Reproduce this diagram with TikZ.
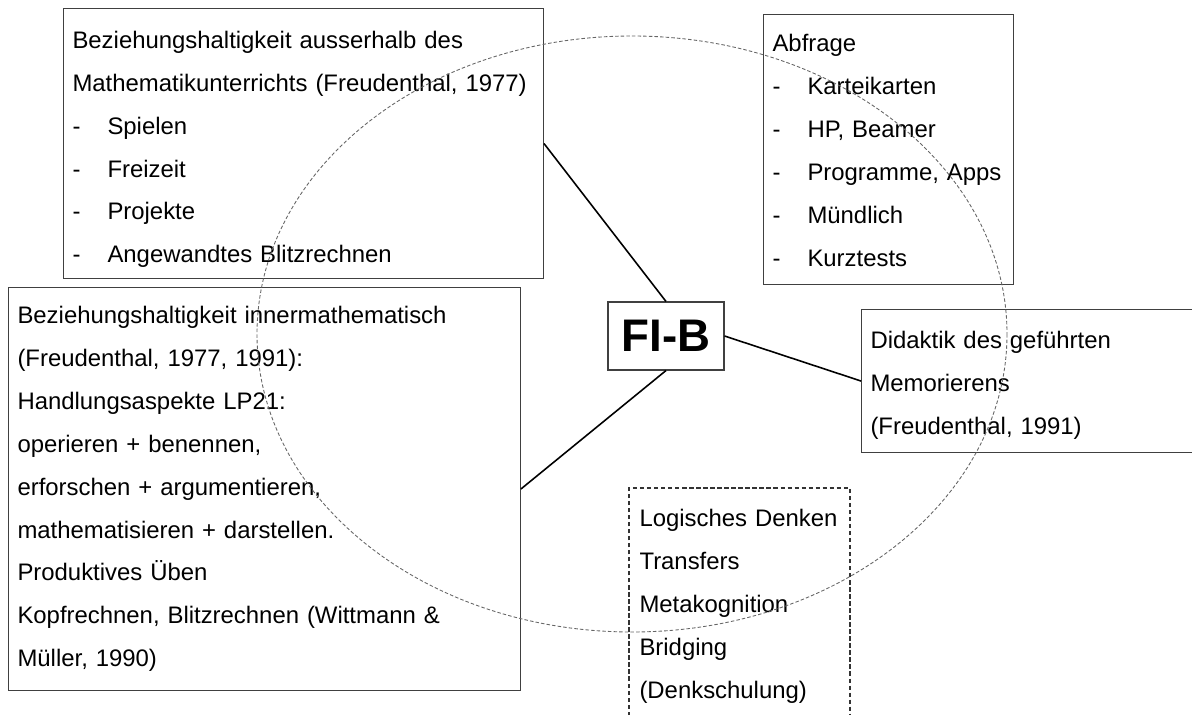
\documentclass[tikz,border=0pt]{standalone}
\usepackage{fontspec}
\setmainfont{Liberation Sans}
\usetikzlibrary{positioning}

\newcommand{\strich}[1]{\makebox[0.7cm][l]{-}#1}

\begin{document}
\begin{tikzpicture}[x=0.02cm,y=-0.02cm,
    kasten/.style={draw=black!75,line width=0.6pt,anchor=north west,align=left,
        inner xsep=0.18cm,inner ysep=0pt,font=\fontsize{13.6}{24.4}\selectfont},
    absenken/.style={execute at begin node={\rule{0pt}{#1}}},
    verbindung/.style={line width=0.9pt},
    kreis/.style={draw=black!60,line width=0.5pt,dash pattern=on 2pt off 1.2pt}]
\useasboundingbox (0,0) rectangle (1192,715);

% Kasten oben links
\node[kasten,absenken=16.7pt,minimum width=9.6cm,minimum height=5.4cm,text width=9.24cm] (ausser) at (63,8)
    {Beziehungshaltigkeit ausserhalb des\\
     Mathematikunterrichts (Freudenthal, 1977)\\
     \strich{Spielen}\\
     \strich{Freizeit}\\
     \strich{Projekte}\\
     \strich{Angewandtes Blitzrechnen}};

% Kasten oben rechts
\node[kasten,absenken=11pt,minimum width=5.0cm,minimum height=5.4cm,text width=4.64cm] (abfrage) at (763,14)
    {Abfrage\\
     \strich{Karteikarten}\\
     \strich{HP, Beamer}\\
     \strich{Programme, Apps}\\
     \strich{Mündlich}\\
     \strich{Kurztests}};

% Kasten links
\node[kasten,minimum width=10.24cm,minimum height=8.06cm,text width=9.88cm] (inner) at (8,287)
    {Beziehungshaltigkeit innermathematisch\\
     (Freudenthal, 1977, 1991):\\
     Handlungsaspekte LP21:\\
     operieren + benennen,\\
     erforschen + argumentieren,\\
     mathematisieren + darstellen.\\
     Produktives Üben\\
     Kopfrechnen, Blitzrechnen (Wittmann \&\\
     Müller, 1990)};

% Kasten rechts
\node[kasten,absenken=14.4pt,minimum width=6.62cm,minimum height=2.86cm,text width=6.26cm] (didaktik) at (861,309)
    {Didaktik des geführten\\
     Memorierens\\
     (Freudenthal, 1991)};

% Kasten unten, gestrichelt
\node[kasten,absenken=15pt,draw=none,minimum width=4.4cm,minimum height=4.54cm,text width=4.0cm,inner xsep=0.2cm] (denken) at (629,488)
    {Logisches Denken\\
     Transfers\\
     Metakognition\\
     Bridging\\
     (Denkschulung)};
\draw[black!80,line width=0.6pt,dash pattern=on 2.5pt off 1.5pt]
    (denken.south west) |- (denken.north east) -- (denken.south east);

% Mitte
\node[draw=black!75,line width=0.6pt,minimum width=2.32cm,minimum height=1.36cm,
      inner sep=0pt,font=\fontsize{26}{30}\selectfont\bfseries] (fib) at (666,336) {FI-B};

\draw[verbindung] (ausser.east) -- (fib.north);
\draw[verbindung] (fib.east) -- (didaktik.west);
\draw[verbindung] (fib.south) -- (inner.east);

% gestrichelter Kreis
\draw[kreis] (632,334) ellipse [x radius=375, y radius=298];
\end{tikzpicture}
\end{document}
